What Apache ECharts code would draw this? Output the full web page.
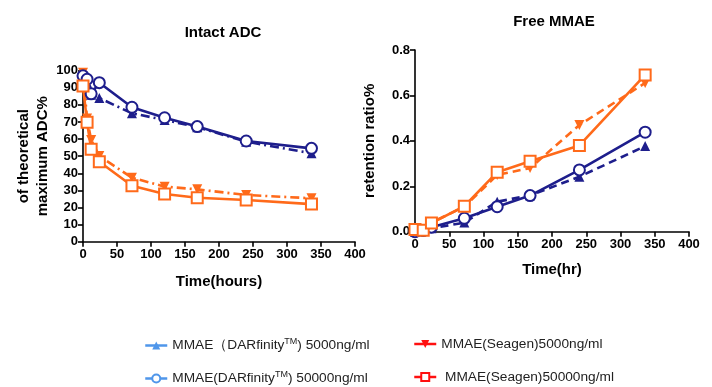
<!DOCTYPE html>
<html>
<head>
<meta charset="utf-8">
<script src="https://cdn.jsdelivr.net/npm/echarts@6/dist/echarts.min.js"></script>
<style>html,body{margin:0;padding:0;background:#fff;}#c{width:712px;height:387px;}</style>
</head>
<body>
<div id="c"></div>
<script>
// ---- data ----
var seriesNames = ['DARF5000', 'DARF50000', 'SEAGEN5000', 'SEAGEN50000'];
var leftTimes = [0, 6, 12, 24, 72, 120, 168, 240, 336];
var leftDarf5000 = [98, 93, 86, 84, 75.1, 71.2, 67, 58.5, 51.7];
var leftDarf50000 = [97, 95, 86.5, 93, 78.6, 72.5, 67.3, 58.9, 54.6];
var leftSeagen5000 = [98.8, 72, 59.5, 50.1, 37.4, 32.2, 30.6, 27.3, 25.4];
var leftSeagen50000 = [91, 69.8, 54, 46.8, 32.7, 27.9, 25.7, 24.4, 22];

var rightTimes = [0, 12, 24, 72, 120, 168, 240, 336];
var rightDarf5000 = [0, 0.005, 0.015, 0.04, 0.132, 0.16, 0.242, 0.377];
var rightDarf50000 = [0, 0.005, 0.02, 0.059, 0.11, 0.159, 0.272, 0.438];
var rightSeagen5000 = [0.01, 0.01, 0.04, 0.11, 0.25, 0.28, 0.47, 0.655];
var rightSeagen50000 = [0.01, 0.006, 0.038, 0.112, 0.262, 0.31, 0.38, 0.69];

var leftYTicks = [0, 10, 20, 30, 40, 50, 60, 70, 80, 90, 100];
var rightYTicks = [0, 0.2, 0.4, 0.6, 0.8];
var xTicks = [0, 50, 100, 150, 200, 250, 300, 350, 400];

var legendLabels = {
  DARF5000: ['MMAE\uFF08DARfinity', ') 5000ng/ml'],
  DARF50000: ['MMAE(DARfinity', ') 50000ng/ml'],
  SEAGEN5000: ['MMAE(Seagen)5000ng/ml'],
  SEAGEN50000: [' MMAE(Seagen)50000ng/ml']
};

// ---- styles ----
var NAVY = '#1e1e8c';
var ORANGE = '#ff6a1a';
var FONT = 'Liberation Sans, Arial, sans-serif';
var dashDot = [9, 4, 2, 4];
var dashed = [8, 5];

function zip(xs, ys) { return xs.map(function (x, i) { return [x, ys[i]]; }); }

function axisCommon() {
  return {
    axisLine: { show: true, lineStyle: { color: '#000', width: 1.6 } },
    axisTick: { show: true, length: 5, lineStyle: { color: '#000', width: 1.6 } },
    splitLine: { show: false },
    axisLabel: { color: '#000', fontWeight: 'bold', fontSize: 13, fontFamily: FONT }
  };
}

function mkX(gi, name, gap) {
  var a = axisCommon();
  return Object.assign(a, {
    type: 'value', gridIndex: gi, min: xTicks[0], max: xTicks[xTicks.length - 1], interval: 50,
    name: name, nameLocation: 'middle', nameGap: gap,
    nameTextStyle: { color: '#000', fontWeight: 'bold', fontSize: 15, fontFamily: FONT },
    axisLabel: Object.assign(a.axisLabel, { margin: 6 })
  });
}

function mkY(gi, ticks, name, gap, fmt) {
  var a = axisCommon();
  return Object.assign(a, {
    type: 'value', gridIndex: gi, min: ticks[0], max: ticks[ticks.length - 1],
    interval: ticks[1] - ticks[0],
    name: name, nameLocation: 'middle', nameGap: gap,
    nameTextStyle: { color: '#000', fontWeight: 'bold', fontSize: 15, fontFamily: FONT, lineHeight: 19 },
    axisLabel: Object.assign(a.axisLabel, { margin: 5, formatter: fmt })
  });
}

function mkSeries(name, gi, xs, ys, kind, lineType) {
  var color = kind.indexOf('DARF') === 0 ? NAVY : ORANGE;
  var s = {
    name: name, type: 'line', xAxisIndex: gi, yAxisIndex: gi,
    data: zip(xs, ys),
    lineStyle: { color: color, width: 2.6, type: lineType },
    itemStyle: { color: color, borderColor: color, borderWidth: 2 },
    showAllSymbol: true, animation: false, z: 3
  };
  if (kind === 'DARF5000') { s.symbol = 'triangle'; s.symbolSize = 10; s.itemStyle.borderWidth = 0; }
  if (kind === 'SEAGEN5000') { s.symbol = 'triangle'; s.symbolRotate = 180; s.symbolSize = 10; s.itemStyle.borderWidth = 0; }
  if (kind === 'DARF50000') { s.symbol = 'circle'; s.symbolSize = 11; s.itemStyle.color = '#fff'; s.z = 4; }
  if (kind === 'SEAGEN50000') { s.symbol = 'rect'; s.symbolSize = 11; s.itemStyle.color = '#fff'; s.z = 4; }
  return s;
}

var legendColors = { DARF5000: '#4f96ea', DARF50000: '#4f96ea', SEAGEN5000: '#ff1010', SEAGEN50000: '#ff1010' };

function legendItem(n) {
  var c = legendColors[n];
  var filled = n.indexOf('50000') < 0;
  return {
    name: n,
    itemStyle: { color: filled ? c : '#fff', borderColor: c, borderWidth: filled ? 0 : 2 },
    lineStyle: { color: c, type: 'solid', width: 2.5 }
  };
}

function legendFmt(n) {
  var p = legendLabels[n];
  if (p.length === 2) return '{a|' + p[0] + '}{s|TM}{a|' + p[1] + '}';
  return '{a|' + p[0] + '}';
}

var legendText = {
  color: '#222', fontSize: 13.7, fontFamily: FONT,
  rich: {
    a: { fontSize: 13.7, fontFamily: FONT, color: '#222' },
    s: { fontSize: 9, fontFamily: FONT, color: '#222', padding: [0, 0, 8, 0] }
  }
};

function mkLegend(n, left, top) {
  return {
    orient: 'horizontal', left: left, top: top, itemWidth: 22, itemHeight: 10, itemGap: 0,
    data: [legendItem(n)], formatter: legendFmt, textStyle: legendText, selectedMode: false
  };
}

var option = {
  backgroundColor: '#fff',
  animation: false,
  title: [
    { text: 'Intact ADC', left: 218, top: 20, textAlign: 'center',
      textStyle: { fontSize: 15, fontWeight: 'bold', color: '#000', fontFamily: FONT } },
    { text: 'Free MMAE', left: 549, top: 9, textAlign: 'center',
      textStyle: { fontSize: 15, fontWeight: 'bold', color: '#000', fontFamily: FONT } }
  ],
  grid: [
    { left: 83, top: 70.7, width: 272, height: 171, containLabel: false },
    { left: 415, top: 50, width: 274, height: 181.7, containLabel: false }
  ],
  xAxis: [mkX(0, 'Time(hours)', 33), mkX(1, 'Time(hr)', 31)],
  yAxis: [
    mkY(0, leftYTicks, 'of theoretical\nmaximum ADC%', 29, function (v) { return String(v); }),
    mkY(1, rightYTicks, 'retention ratio%', 36, function (v) { return v.toFixed(1); })
  ],
  legend: [
    mkLegend('DARF5000', 139, 332),
    mkLegend('DARF50000', 139, 365),
    mkLegend('SEAGEN5000', 408, 332),
    mkLegend('SEAGEN50000', 408, 365)
  ],
  series: [
    mkSeries('DARF5000', 0, leftTimes, leftDarf5000, 'DARF5000', dashDot),
    mkSeries('DARF50000', 0, leftTimes, leftDarf50000, 'DARF50000', 'solid'),
    mkSeries('SEAGEN5000', 0, leftTimes, leftSeagen5000, 'SEAGEN5000', dashDot),
    mkSeries('SEAGEN50000', 0, leftTimes, leftSeagen50000, 'SEAGEN50000', 'solid'),
    mkSeries('DARF5000', 1, rightTimes, rightDarf5000, 'DARF5000', dashed),
    mkSeries('DARF50000', 1, rightTimes, rightDarf50000, 'DARF50000', 'solid'),
    mkSeries('SEAGEN5000', 1, rightTimes, rightSeagen5000, 'SEAGEN5000', dashed),
    mkSeries('SEAGEN50000', 1, rightTimes, rightSeagen50000, 'SEAGEN50000', 'solid')
  ]
};

var chart = echarts.init(document.getElementById('c'), null, { renderer: 'canvas' });
chart.setOption(option);
</script>
</body>
</html>
